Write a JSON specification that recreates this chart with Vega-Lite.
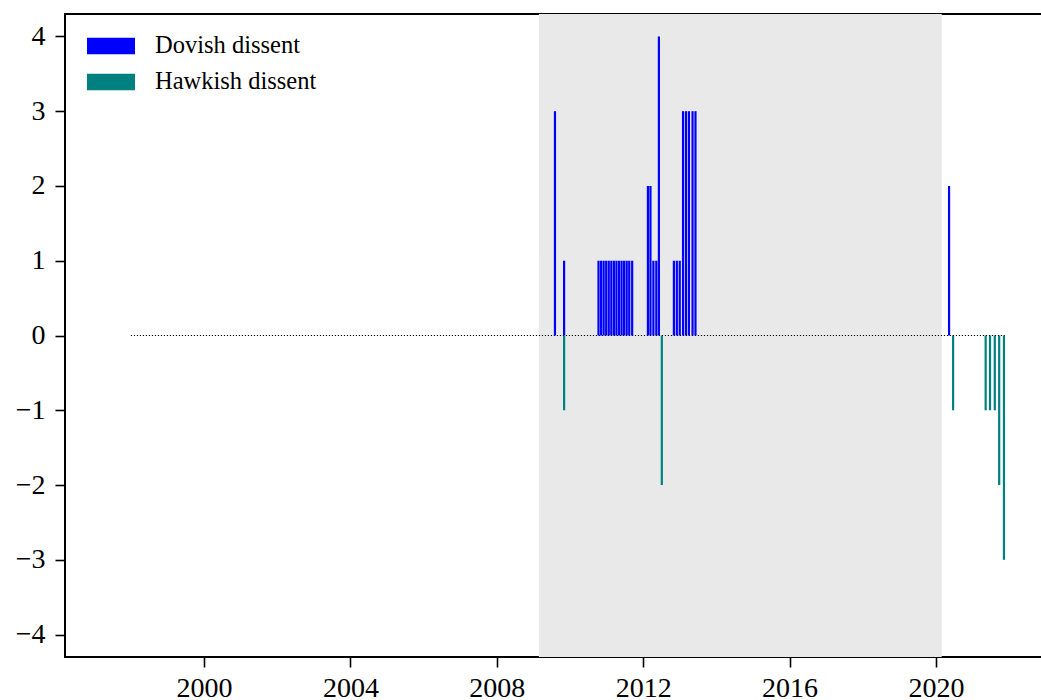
{
  "$schema": "https://vega.github.io/schema/vega-lite/v6.json",
  "width": 977,
  "height": 643,
  "autosize": {"type": "none"},
  "padding": {"left": 65, "top": 14, "right": 0, "bottom": 43},
  "background": "white",
  "config": {
    "view": {"stroke": "black", "strokeWidth": 2},
    "font": "Liberation Serif",
    "axis": {
      "domain": false,
      "grid": false,
      "ticks": true,
      "tickColor": "black",
      "tickWidth": 1.6,
      "tickSize": 10,
      "labelColor": "black",
      "labelFont": "Liberation Serif",
      "labelFontSize": 28,
      "title": null
    },
    "legend": {
      "orient": "none",
      "legendX": 22,
      "legendY": 8,
      "padding": 0,
      "title": null,
      "labelFont": "Liberation Serif",
      "labelFontSize": 24.5,
      "labelColor": "black",
      "labelLimit": 0,
      "labelOffset": 20,
      "rowPadding": -3.5,
      "symbolType": "M-1,-0.34H1V0.34H-1Z",
      "symbolSize": 2304,
      "symbolStrokeWidth": 0,
      "symbolOpacity": 1
    }
  },
  "datasets": {
    "bars": [
      {"date": 2009.59, "value": 3, "type": "Dovish dissent"},
      {"date": 2009.84, "value": 1, "type": "Dovish dissent"},
      {"date": 2010.78, "value": 1, "type": "Dovish dissent"},
      {"date": 2010.85, "value": 1, "type": "Dovish dissent"},
      {"date": 2010.92, "value": 1, "type": "Dovish dissent"},
      {"date": 2010.99, "value": 1, "type": "Dovish dissent"},
      {"date": 2011.06, "value": 1, "type": "Dovish dissent"},
      {"date": 2011.13, "value": 1, "type": "Dovish dissent"},
      {"date": 2011.20, "value": 1, "type": "Dovish dissent"},
      {"date": 2011.27, "value": 1, "type": "Dovish dissent"},
      {"date": 2011.34, "value": 1, "type": "Dovish dissent"},
      {"date": 2011.41, "value": 1, "type": "Dovish dissent"},
      {"date": 2011.48, "value": 1, "type": "Dovish dissent"},
      {"date": 2011.55, "value": 1, "type": "Dovish dissent"},
      {"date": 2011.62, "value": 1, "type": "Dovish dissent"},
      {"date": 2011.70, "value": 1, "type": "Dovish dissent"},
      {"date": 2012.13, "value": 2, "type": "Dovish dissent"},
      {"date": 2012.20, "value": 2, "type": "Dovish dissent"},
      {"date": 2012.28, "value": 1, "type": "Dovish dissent"},
      {"date": 2012.36, "value": 1, "type": "Dovish dissent"},
      {"date": 2012.43, "value": 4, "type": "Dovish dissent"},
      {"date": 2012.84, "value": 1, "type": "Dovish dissent"},
      {"date": 2012.92, "value": 1, "type": "Dovish dissent"},
      {"date": 2013.00, "value": 1, "type": "Dovish dissent"},
      {"date": 2013.09, "value": 3, "type": "Dovish dissent"},
      {"date": 2013.17, "value": 3, "type": "Dovish dissent"},
      {"date": 2013.25, "value": 3, "type": "Dovish dissent"},
      {"date": 2013.35, "value": 3, "type": "Dovish dissent"},
      {"date": 2013.43, "value": 3, "type": "Dovish dissent"},
      {"date": 2020.36, "value": 2, "type": "Dovish dissent"},
      {"date": 2009.84, "value": -1, "type": "Hawkish dissent"},
      {"date": 2012.51, "value": -2, "type": "Hawkish dissent"},
      {"date": 2020.47, "value": -1, "type": "Hawkish dissent"},
      {"date": 2021.36, "value": -1, "type": "Hawkish dissent"},
      {"date": 2021.48, "value": -1, "type": "Hawkish dissent"},
      {"date": 2021.61, "value": -1, "type": "Hawkish dissent"},
      {"date": 2021.73, "value": -2, "type": "Hawkish dissent"},
      {"date": 2021.86, "value": -3, "type": "Hawkish dissent"}
    ],
    "shade": [{"start": 2009.15, "end": 2020.16}],
    "zero": [{"start": 1998.0, "end": 2021.88, "y": 0}]
  },
  "layer": [
    {
      "data": {"name": "shade"},
      "mark": {"type": "rect", "color": "#e9e9e9"},
      "encoding": {
        "x": {
          "field": "start",
          "type": "quantitative",
          "scale": {"domain": [1996.2, 2022.9], "nice": false, "zero": false, "padding": 0},
          "axis": {"values": [2000, 2004, 2008, 2012, 2016, 2020], "format": "d", "labelPadding": 7}
        },
        "x2": {"field": "end"}
      }
    },
    {
      "data": {"name": "bars"},
      "mark": {"type": "bar", "size": 2.2},
      "encoding": {
        "x": {"field": "date", "type": "quantitative"},
        "y": {
          "field": "value",
          "type": "quantitative",
          "scale": {"domain": [-4.3, 4.3], "nice": false, "padding": 0},
          "axis": {"values": [-4, -3, -2, -1, 0, 1, 2, 3, 4], "format": "d", "labelPadding": 10}
        },
        "color": {
          "field": "type",
          "type": "nominal",
          "scale": {"domain": ["Dovish dissent", "Hawkish dissent"], "range": ["#0000ff", "#008080"]}
        }
      }
    },
    {
      "data": {"name": "zero"},
      "mark": {"type": "rule", "color": "black", "strokeWidth": 1, "strokeDash": [1.2, 1.8]},
      "encoding": {
        "x": {"field": "start", "type": "quantitative"},
        "x2": {"field": "end"},
        "y": {"field": "y", "type": "quantitative"}
      }
    }
  ]
}
